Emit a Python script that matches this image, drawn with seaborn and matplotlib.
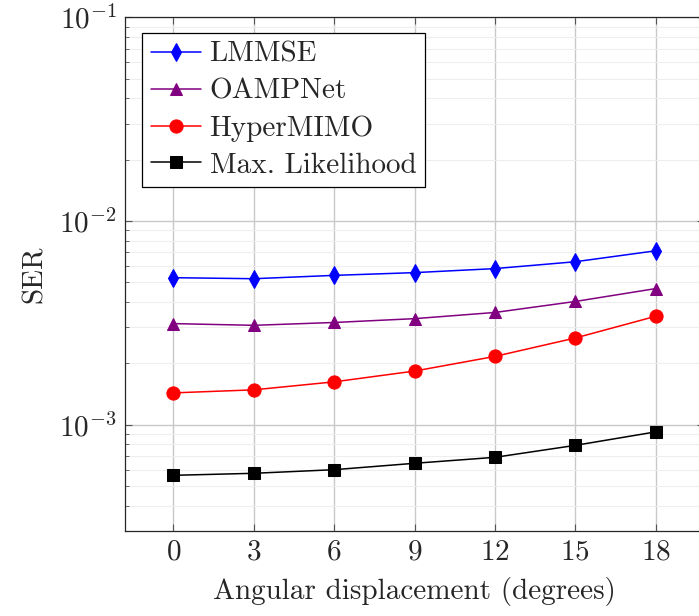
import pandas as pd
import matplotlib
matplotlib.use("Agg")
import matplotlib.pyplot as plt
import matplotlib.ticker as mticker
import seaborn as sns

# values
angles = [0, 3, 6, 9, 12, 15, 18]
lmmse = [5.26e-3, 5.2e-3, 5.4e-3, 5.57e-3, 5.83e-3, 6.3e-3, 7.13e-3]
oampnet = [3.13e-3, 3.07e-3, 3.17e-3, 3.31e-3, 3.55e-3, 4.02e-3, 4.65e-3]
hypermimo = [1.43e-3, 1.48e-3, 1.62e-3, 1.83e-3, 2.16e-3, 2.66e-3, 3.4e-3]
max_lik = [5.63e-4, 5.76e-4, 6.0e-4, 6.45e-4, 6.9e-4, 7.9e-4, 9.2e-4]

methods = ["LMMSE", "OAMPNet", "HyperMIMO", "Max. Likelihood"]
series = [lmmse, oampnet, hypermimo, max_lik]

rows = []
for m, vals in zip(methods, series):
    for a, v in zip(angles, vals):
        rows.append({"angle": a, "SER": v, "method": m})
df = pd.DataFrame(rows)

sns.set_style("ticks")
plt.rcParams['font.family'] = ['serif']
plt.rcParams['font.serif'] = ['cmr10', 'DejaVu Serif']
plt.rcParams['mathtext.fontset'] = 'cm'
plt.rcParams['axes.formatter.use_mathtext'] = True
plt.rcParams['font.size'] = 20

colors = {"LMMSE": "blue", "OAMPNet": "purple", "HyperMIMO": "red", "Max. Likelihood": "black"}
markers = {"LMMSE": "d", "OAMPNet": "^", "HyperMIMO": "o", "Max. Likelihood": "s"}
msizes = {"LMMSE": 9, "OAMPNet": 8.5, "HyperMIMO": 9.5, "Max. Likelihood": 9}

fig = plt.figure(figsize=(6.99, 6.16), dpi=100)
ax = fig.add_axes([0.179, 0.138, 0.828, 0.834])

for m in methods:
    sns.lineplot(data=df[df["method"] == m], x="angle", y="SER", color=colors[m],
                 marker=markers[m], markersize=msizes[m], markeredgecolor=colors[m],
                 linewidth=1.1, label=m, ax=ax)

ax.set_yscale("log")
ax.set_ylim(3e-4, 1e-1)
ax.set_xlim(-1.8, 19.8)
ax.set_xticks(angles)
ax.yaxis.set_minor_locator(mticker.LogLocator(base=10, subs=range(2, 10)))
ax.yaxis.set_minor_formatter(mticker.NullFormatter())

ax.grid(True, which="major", color="#c8c8c8", linewidth=1.0)
ax.grid(True, which="minor", axis="y", color="#eeeeee", linewidth=0.8)
ax.set_axisbelow(True)
ax.tick_params(which="both", direction="in", top=True, right=True, color="#555555")
ax.tick_params(which="major", length=5, labelsize=21, pad=6)
ax.tick_params(which="minor", length=3)
for s in ax.spines.values():
    s.set_linewidth(0.9)

ax.set_xlabel("Angular displacement (degrees)", fontsize=21, labelpad=8)
ax.set_ylabel("SER", fontsize=21, labelpad=8)

leg = ax.legend(loc="upper left", bbox_to_anchor=(0.03, 0.97), fancybox=False,
                edgecolor="black", framealpha=1, fontsize=21, handlelength=1.7,
                borderpad=0.3, labelspacing=0.36, handletextpad=0.3, borderaxespad=0)
leg.get_frame().set_linewidth(0.9)

fig.savefig("out.png", dpi=100)
